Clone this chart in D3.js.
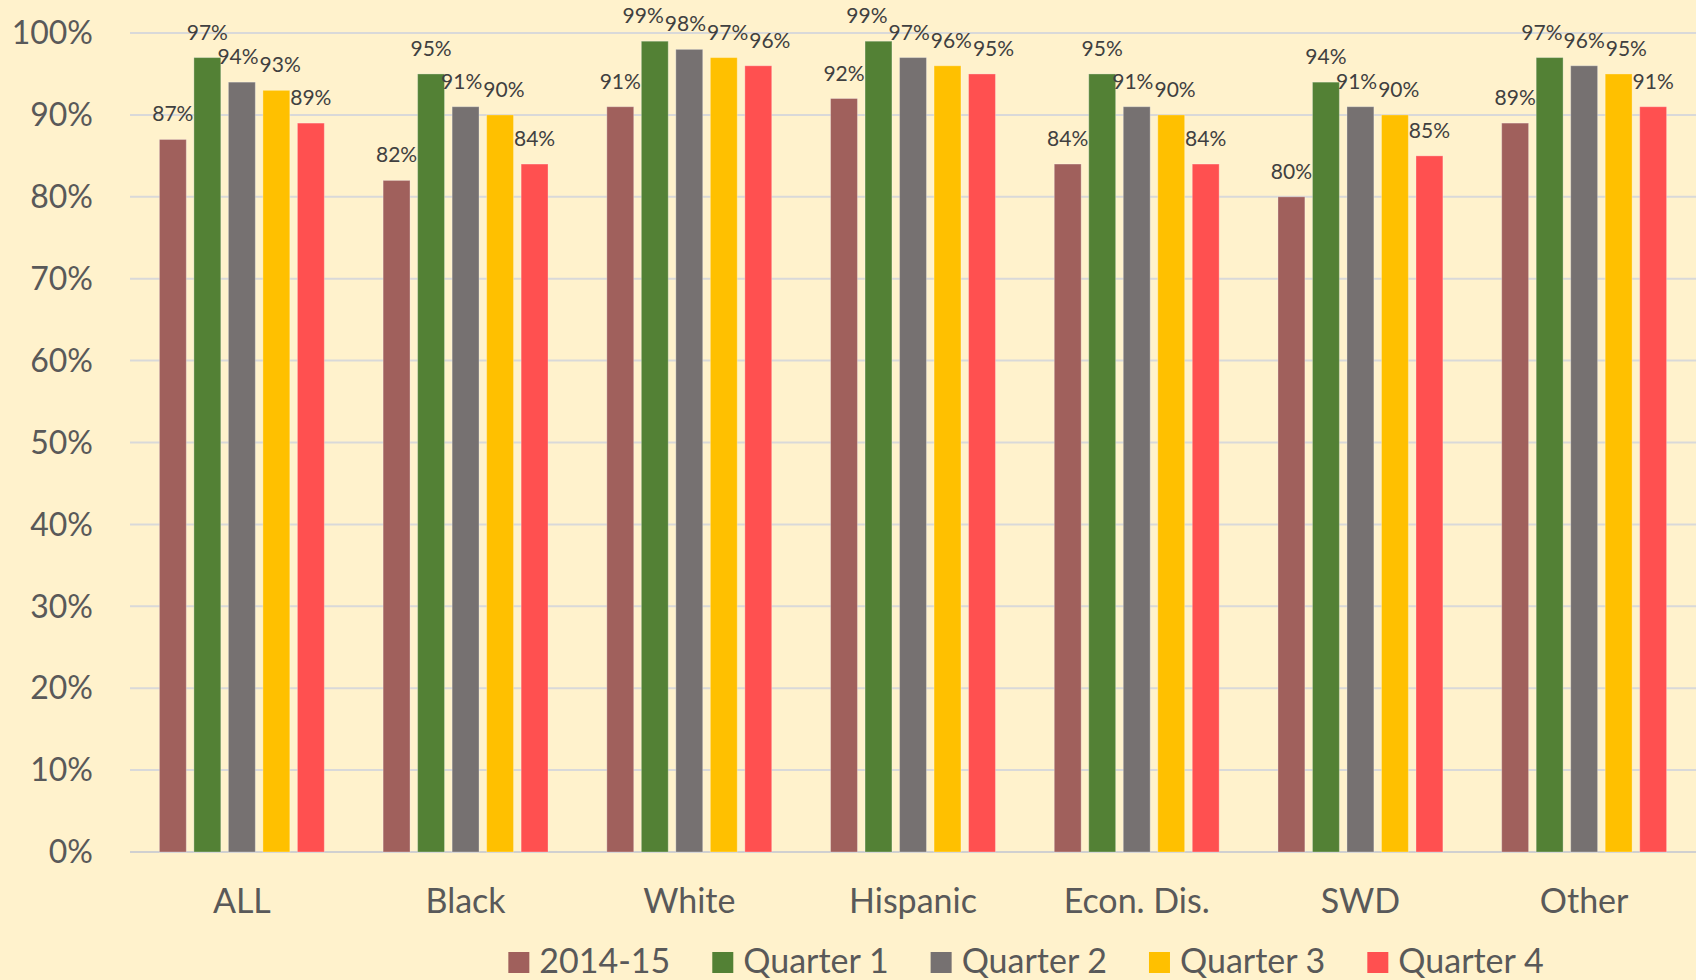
<!DOCTYPE html>
<html>
<head>
<meta charset="utf-8">
<script src="https://cdn.jsdelivr.net/npm/d3@7"></script>
<style>
  html, body { margin: 0; padding: 0; background: #fff2cc; }
  svg { display: block; font-family: Lato, "Open Sans", sans-serif; }
  .tick-label { fill: #595959; font-size: 32px; }
  .cat-label { fill: #595959; font-size: 34px; }
  .value-label { fill: #404040; font-size: 21px; }
  .legend-text { fill: #595959; font-size: 34px; }
</style>
</head>
<body>
<div id="chart"></div>
<script>
const categories = ["ALL", "Black", "White", "Hispanic", "Econ. Dis.", "SWD", "Other"];
const seriesNames = ["2014-15", "Quarter 1", "Quarter 2", "Quarter 3", "Quarter 4"];
const seriesColors = ["#a0605c", "#538135", "#767171", "#ffc000", "#ff5050"];

// percent values, one array per series, in category order
const values2014 = [87, 82, 91, 92, 84, 80, 89];
const valuesQ1 = [97, 95, 99, 99, 95, 94, 97];
const valuesQ2 = [94, 91, 98, 97, 91, 91, 96];
const valuesQ3 = [93, 90, 97, 96, 90, 90, 95];
const valuesQ4 = [89, 84, 96, 95, 84, 85, 91];

const yTicks = [0, 10, 20, 30, 40, 50, 60, 70, 80, 90, 100];

class VisGroupedBars {
  constructor(el) {
    this.el = el;
    this.width = 1696;
    this.height = 980;
    this.marginTop = 33;
    this.marginLeft = 130;
    this.marginRight = 0;
    this.plotBottom = 852;
    this.legendCenter = 1026;
    this.legendBaseline = 973;

    this.setup();
    this.scaffold();
    this.render();
  }

  setup() {
    const allValues = [values2014, valuesQ1, valuesQ2, valuesQ3, valuesQ4];
    this.data = categories.map((c, i) => ({
      category: c,
      bars: seriesNames.map((s, j) => ({ series: s, value: allValues[j][i], color: seriesColors[j] })),
    }));

    this.x0 = d3.scaleBand()
      .domain(categories)
      .range([this.marginLeft, this.width - this.marginRight])
      .padding(0);
    this.x1 = d3.scaleBand()
      .domain(seriesNames)
      .range([0, this.x0.bandwidth()])
      .paddingInner(0.22)
      .paddingOuter(0.852);
    this.y = d3.scaleLinear().domain([0, 100]).range([this.plotBottom, this.marginTop]);
  }

  scaffold() {
    this.svg = d3.select(this.el)
      .append("svg")
      .attr("width", this.width)
      .attr("height", this.height)
      .attr("viewBox", [0, 0, this.width, this.height]);

    this.gGrid = this.svg.append("g").attr("class", "grid-g");
    this.gBars = this.svg.append("g").attr("class", "bars-g");
    this.gLabels = this.svg.append("g").attr("class", "labels-g");
    this.gX = this.svg.append("g").attr("class", "axis-g axis-g--x");
    this.gLegend = this.svg.append("g").attr("class", "legend-g");
  }

  render() {
    this.renderYAxis();
    this.renderBars();
    this.renderLabels();
    this.renderXAxis();
    this.renderLegend();
  }

  renderYAxis() {
    const tick = this.gGrid.selectAll(".tick")
      .data(yTicks)
      .join("g")
      .attr("class", "tick")
      .attr("transform", (d) => `translate(0,${this.y(d)})`);

    tick.append("line")
      .attr("x1", this.marginLeft)
      .attr("x2", this.width - this.marginRight)
      .attr("stroke", (d) => (d === 0 ? "#d0d0d0" : "#d9d9d9"))
      .attr("stroke-width", 2);

    tick.append("text")
      .attr("class", "tick-label")
      .attr("x", 93)
      .attr("dy", "0.35em")
      .attr("text-anchor", "end")
      .text((d) => `${d}%`);
  }

  renderBars() {
    this.gBars.selectAll(".group-g")
      .data(this.data)
      .join("g")
      .attr("class", "group-g")
      .attr("transform", (d) => `translate(${this.x0(d.category)},0)`)
      .selectAll("rect")
      .data((d) => d.bars)
      .join("rect")
      .attr("x", (d) => this.x1(d.series))
      .attr("width", this.x1.bandwidth())
      .attr("y", (d) => this.y(d.value))
      .attr("height", (d) => this.y(0) - this.y(d.value))
      .attr("fill", (d) => d.color)
      .attr("stroke", "rgba(255,255,255,0.3)")
      .attr("stroke-width", 1);
  }

  renderLabels() {
    const group = this.gLabels.selectAll(".label-group")
      .data(this.data)
      .join("g")
      .attr("class", "label-group")
      .attr("transform", (d) => `translate(${this.x0(d.category)},0)`);

    group.selectAll("text")
      .data((d) => d.bars)
      .join("text")
      .attr("class", "value-label")
      .attr("text-anchor", "middle")
      .attr("x", (d) => this.x1(d.series) + this.x1.bandwidth() / 2)
      .attr("y", (d) => this.y(d.value) - 18)
      .text((d) => `${d.value}%`);

    // nudge overlapping labels apart, a bit like the spreadsheet does
    group.each(function () {
      const texts = d3.select(this).selectAll("text").nodes();
      const boxes = texts.map((t) => {
        const b = t.getBBox();
        return { node: t, x: b.x, y: b.y, w: b.width, h: b.height, dx: 0 };
      });
      for (let iter = 0; iter < 20; iter++) {
        let moved = false;
        for (let i = 0; i < boxes.length - 1; i++) {
          const a = boxes[i];
          const b = boxes[i + 1];
          const ax2 = a.x + a.dx + a.w;
          const bx1 = b.x + b.dx;
          const vOverlap = a.y < b.y + b.h - 3 && b.y < a.y + a.h - 3;
          const over = ax2 - bx1 + 1;
          if (vOverlap && over > 0) {
            a.dx -= over / 2;
            b.dx += over / 2;
            moved = true;
          }
        }
        if (!moved) break;
      }
      boxes.forEach((b) => d3.select(b.node).attr("dx", b.dx));
    });
  }

  renderXAxis() {
    this.gX.selectAll("text")
      .data(categories)
      .join("text")
      .attr("class", "cat-label")
      .attr("text-anchor", "middle")
      .attr("x", (d) => this.x0(d) + this.x0.bandwidth() / 2)
      .attr("y", 913)
      .text((d) => d);
  }

  renderLegend() {
    const swatch = 21;
    const textGap = 10;
    const itemGap = 42;

    const item = this.gLegend.selectAll(".legend-item")
      .data(seriesNames.map((s, i) => ({ name: s, color: seriesColors[i] })))
      .join("g")
      .attr("class", "legend-item");

    item.append("rect")
      .attr("width", swatch)
      .attr("height", swatch)
      .attr("y", this.legendBaseline - swatch)
      .attr("fill", (d) => d.color);

    item.append("text")
      .attr("class", "legend-text")
      .attr("x", swatch + textGap)
      .attr("y", this.legendBaseline)
      .text((d) => d.name);

    const widths = item.select("text").nodes().map((t) => swatch + textGap + t.getComputedTextLength());
    const total = d3.sum(widths) + itemGap * (widths.length - 1);
    let cursor = this.legendCenter - total / 2;
    item.attr("transform", (d, i) => {
      const x = cursor;
      cursor += widths[i] + itemGap;
      return `translate(${x},0)`;
    });
  }
}

new VisGroupedBars(document.getElementById("chart"));
</script>
</body>
</html>
